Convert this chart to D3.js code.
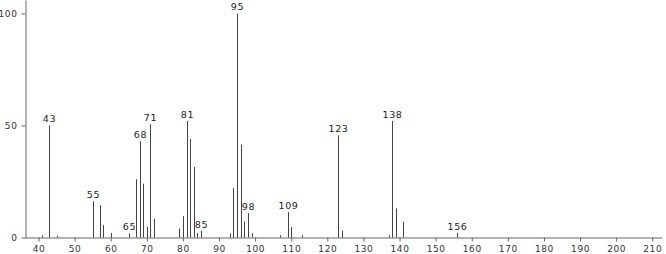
<!DOCTYPE html>
<html>
<head>
<meta charset="utf-8">
<script src="https://cdn.jsdelivr.net/npm/d3@7"></script>
<style>
  body { margin: 0; background: #fff; }
  text { font-family: "DejaVu Sans", sans-serif; }
</style>
</head>
<body>
<svg id="chart" width="666" height="254"></svg>
<script>
// mass spectrum: m/z and relative abundance (%)
var mz        = [41, 43, 45, 55, 57, 58, 60, 65, 67, 68, 69, 70, 71, 72, 79, 80, 81, 82, 83, 84, 85,
                 93, 94, 95, 96, 97, 98, 99, 107, 109, 110, 113, 123, 124, 137, 138, 139, 141, 156];
var abundance = [1, 50, 0.8, 16.2, 14.4, 5.5, 2, 1.8, 26, 43, 24, 4.7, 50.5, 8.3, 4, 9.5, 52, 44, 31.5, 2, 3,
                 1.8, 22, 100, 41.5, 7.2, 11, 2, 1, 11.3, 4.6, 1, 45.6, 3, 1, 52, 13, 7, 2];
var labeled   = [43, 55, 65, 68, 71, 81, 85, 95, 98, 109, 123, 138, 156];

var xMajor = d3.range(40, 211, 10);
var xMinor = d3.range(38, 213, 2).filter(function(d) { return d % 10 != 0; });
var yMajor = [0, 50, 100];
var yMinor = [25, 75];

var svg = d3.select("#chart");

var x = d3.scaleLinear().domain([36.26, 212.7]).range([25, 662]);
var y = d3.scaleLinear().domain([0, 106]).range([237.5, 0]);

var data = mz.map(function(m, i) { return {mz: m, v: abundance[i]}; });

// axes
var gx = svg.append("g").attr("transform", "translate(0,237.5)");
gx.call(d3.axisBottom(x).tickValues(xMinor).tickSize(2).tickFormat("").tickSizeOuter(0));
gx.call(d3.axisBottom(x).tickValues(xMajor).tickSize(4).tickSizeOuter(0).tickFormat(d3.format("d")));
gx.selectAll("path,line").attr("stroke", "#666");
gx.selectAll("text").attr("font-size", "9px").attr("fill", "#333")
  .attr("letter-spacing", "0.6px").attr("dy", "0.85em");

var gy = svg.append("g").attr("transform", "translate(25.5,0)");
gy.call(d3.axisLeft(y).tickValues(yMinor).tickSize(2).tickFormat("").tickSizeOuter(0));
gy.call(d3.axisLeft(y).tickValues(yMajor).tickSize(4).tickSizeOuter(0).tickFormat(d3.format("d")));
gy.selectAll("path,line").attr("stroke", "#666");
gy.selectAll("text").attr("font-size", "9px").attr("fill", "#333")
  .attr("letter-spacing", "0.6px").attr("dx", "-1");

// peaks
svg.append("g").selectAll("line")
  .data(data)
  .enter().append("line")
  .attr("x1", function(d) { return Math.round(x(d.mz)) + 0.5; })
  .attr("x2", function(d) { return Math.round(x(d.mz)) + 0.5; })
  .attr("y1", y(0))
  .attr("y2", function(d) { return y(d.v); })
  .attr("stroke", "#444")
  .attr("stroke-width", 1);

// peak labels
svg.append("g").selectAll("text")
  .data(data.filter(function(d) { return labeled.indexOf(d.mz) >= 0; }))
  .enter().append("text")
  .attr("x", function(d) { return Math.round(x(d.mz)) + 0.5; })
  .attr("y", function(d) { return y(d.v) - 3; })
  .attr("text-anchor", "middle")
  .attr("font-size", "9.5px")
  .attr("letter-spacing", "0.6px")
  .attr("fill", "#222")
  .text(function(d) { return d.mz; });
</script>
</body>
</html>
